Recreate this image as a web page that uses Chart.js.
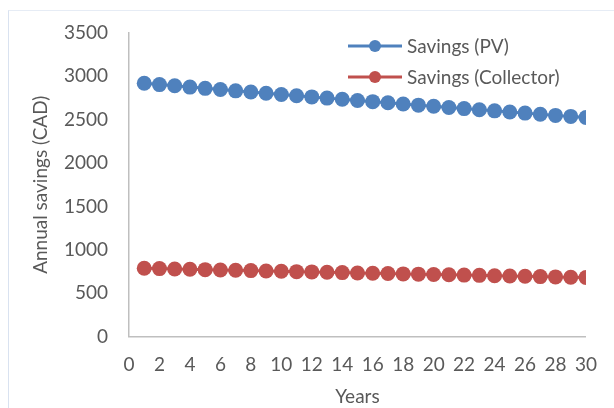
<!DOCTYPE html>
<html>
<head>
<meta charset="utf-8">
<script src="https://cdn.jsdelivr.net/npm/chart.js@4"></script>
<style>
  html, body { margin: 0; padding: 0; background: #fff; }
  #wrap { position: relative; width: 614px; height: 408px; overflow: hidden; }
  #frame { position: absolute; left: 8px; top: 10px; width: 700px; height: 500px;
           border-left: 1px solid #d9e2f0; border-top: 1px solid #e6ecf5; }
  canvas { position: absolute; left: 0; top: 0; }
</style>
</head>
<body>
<div id="wrap">
  <div id="frame"></div>
  <canvas id="chart" width="614" height="408"></canvas>
</div>
<script>
// ── Annual savings over 30 years ──
const years = [1, 2, 3, 4, 5, 6, 7, 8, 9, 10, 11, 12, 13, 14, 15,
               16, 17, 18, 19, 20, 21, 22, 23, 24, 25, 26, 27, 28, 29, 30];

// values (CAD)
const savingsPV = [2920, 2905, 2891, 2876, 2862, 2848, 2833, 2819, 2805, 2791,
                   2777, 2763, 2749, 2736, 2722, 2708, 2695, 2681, 2668, 2655,
                   2641, 2628, 2615, 2602, 2589, 2576, 2563, 2550, 2538, 2525];
const savingsCollector = [787, 783, 779, 775, 771, 767, 764, 760, 756, 752,
                          748, 745, 741, 737, 733, 730, 726, 722, 719, 715,
                          712, 708, 705, 701, 698, 694, 691, 687, 684, 680];

const seriesLabels = ['Savings (PV)', 'Savings (Collector)'];
const xTitle = 'Years';
const yTitle = 'Annual savings (CAD)';

const FONT = 'Lato, "Open Sans", sans-serif';
const FS = 19;
const TEXT = '#595959';
const AXIS = '#bfbfbf';
const BLUE = '#4f81bd';
const RED = '#c0504d';

const toPts = vals => years.map((yr, i) => ({ x: yr, y: vals[i] }));

// Legend drawn inside the plot, top right (Excel style)
const insideLegend = {
  id: 'insideLegend',
  afterDraw(chart) {
    const ctx = chart.ctx;
    const rows = [46, 77];
    ctx.save();
    chart.data.datasets.forEach((ds, i) => {
      const y = rows[i];
      ctx.strokeStyle = ds.borderColor;
      ctx.lineWidth = 3;
      ctx.beginPath();
      ctx.moveTo(348, y);
      ctx.lineTo(402, y);
      ctx.stroke();
      ctx.fillStyle = ds.pointBackgroundColor;
      ctx.beginPath();
      ctx.arc(375, y, 6, 0, Math.PI * 2);
      ctx.fill();
      ctx.fillStyle = TEXT;
      ctx.font = FS + 'px ' + FONT;
      ctx.textBaseline = 'middle';
      ctx.textAlign = 'left';
      ctx.fillText(ds.label, 407, y + 1);
    });
    ctx.restore();
  }
};

new Chart(document.getElementById('chart'), {
  type: 'line',
  data: {
    datasets: [
      {
        label: seriesLabels[0],
        data: toPts(savingsPV),
        borderColor: BLUE,
        backgroundColor: BLUE,
        pointBackgroundColor: BLUE,
        pointBorderWidth: 0,
        pointRadius: 7.5,
        borderWidth: 3,
        tension: 0
      },
      {
        label: seriesLabels[1],
        data: toPts(savingsCollector),
        borderColor: RED,
        backgroundColor: RED,
        pointBackgroundColor: RED,
        pointBorderWidth: 0,
        pointRadius: 7.5,
        borderWidth: 3,
        tension: 0
      }
    ]
  },
  options: {
    responsive: false,
    animation: false,
    layout: { padding: { left: 0, top: 33, right: 24, bottom: 0 } },
    plugins: {
      legend: { display: false },
      tooltip: { enabled: false }
    },
    scales: {
      x: {
        type: 'linear',
        min: 0,
        max: 30,
        afterFit: s => { s.height = 71.5; },
        ticks: { stepSize: 2, color: TEXT, padding: 17, font: { size: FS, family: FONT },
                 callback: v => String(v) },
        grid: { display: false, drawTicks: false },
        border: { color: AXIS, width: 1.5 },
        title: { display: true, text: xTitle, color: TEXT, padding: { top: 0, bottom: 0 },
                 font: { size: FS, family: FONT } }
      },
      y: {
        min: 0,
        max: 3500,
        afterFit: s => { s.width = 129; },
        ticks: { stepSize: 500, color: TEXT, padding: 21, font: { size: FS, family: FONT },
                 callback: v => String(v) },
        grid: { display: false, drawTicks: false },
        border: { color: AXIS, width: 1.5 },
        title: { display: true, text: yTitle, color: TEXT, padding: { top: 29, bottom: 0 },
                 font: { size: FS, family: FONT } }
      }
    }
  },
  plugins: [insideLegend]
});
</script>
</body>
</html>
